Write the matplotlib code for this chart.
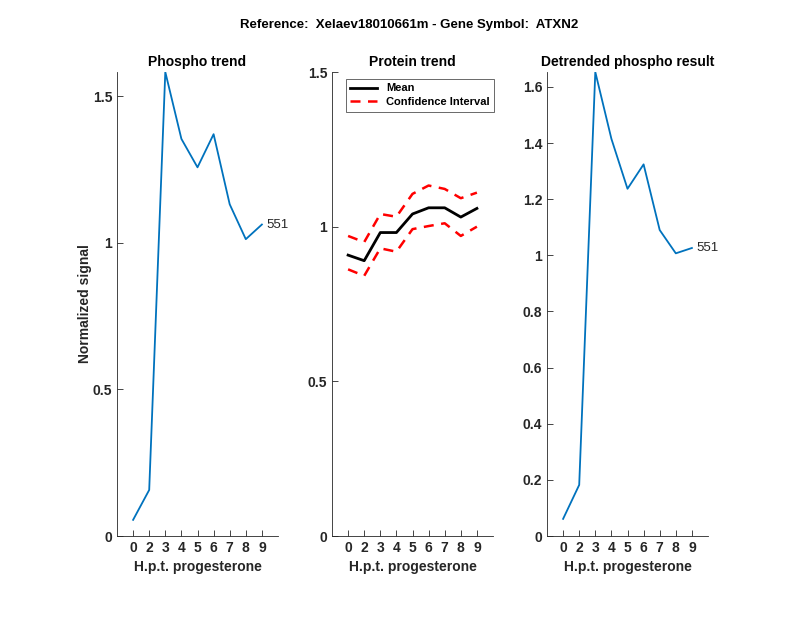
import matplotlib
matplotlib.use("Agg")
import matplotlib.pyplot as plt

plt.rcParams['font.family'] = ['Liberation Sans', 'DejaVu Sans']

# time points (hours post progesterone), drawn at equal spacing
tick_labels = ['0', '2', '3', '4', '5', '6', '7', '8', '9']
positions = list(range(1, len(tick_labels) + 1))

phospho = [0.055, 0.157, 1.582, 1.354, 1.257, 1.370, 1.131, 1.012, 1.062]
protein_mean = [0.908, 0.890, 0.981, 0.981, 1.041, 1.061, 1.061, 1.031, 1.059]
protein_upper = [0.970, 0.950, 1.041, 1.032, 1.106, 1.133, 1.122, 1.092, 1.110]
protein_lower = [0.862, 0.841, 0.930, 0.919, 0.992, 1.002, 1.011, 0.970, 1.000]
detrended = [0.061, 0.182, 1.653, 1.415, 1.237, 1.324, 1.090, 1.007, 1.026]
peptide_label = '551'

blue = '#0072BD'
gray = '#262626'

fig = plt.figure(figsize=(8, 6.18), dpi=100)
W, H = 800.0, 618.0
bottom = (H - 536) / H
height = (536 - 72) / H
lefts = [117, 332, 547]
width = 161 / W
axes = [fig.add_axes([l / W, bottom, width, height]) for l in lefts]


def style_axis(ax, title):
    ax.set_xlim(0, 10)
    ax.set_xticks(positions)
    ax.set_xticklabels(tick_labels)
    for side in ['top', 'right']:
        ax.spines[side].set_visible(False)
    for side in ['left', 'bottom']:
        ax.spines[side].set_color(gray)
        ax.spines[side].set_linewidth(0.6)
    ax.tick_params(direction='in', length=4, width=0.6, colors=gray,
                   labelsize=10, labelcolor=gray)
    for lab in ax.get_xticklabels() + ax.get_yticklabels():
        lab.set_fontweight('bold')
    ax.set_title(title, fontsize=10, fontweight='bold', pad=4)
    ax.set_xlabel('H.p.t. progesterone', fontsize=10, fontweight='bold', color=gray)


# phospho trend
ax = axes[0]
ax.plot(positions, phospho, color=blue, lw=1.3)
ax.set_ylim(0, max(phospho))
ax.set_yticks([0, 0.5, 1, 1.5])
ax.set_yticklabels(['0', '0.5', '1', '1.5'])
ax.text(positions[-1] + 0.3, phospho[-1], peptide_label, fontsize=9.5, va='center', color=gray)
style_axis(ax, 'Phospho trend')
ax.set_ylabel('Normalized signal', fontsize=10, fontweight='bold', color=gray)
ax.yaxis.set_label_coords(-0.155, 0.5)

# protein trend
ax = axes[1]
ax.plot(positions, protein_mean, color='black', lw=2, label='Mean')
ax.plot(positions, protein_upper, color='red', lw=1.8, ls=(0, (4, 3)), label='Confidence Interval')
ax.plot(positions, protein_lower, color='red', lw=1.8, ls=(0, (4, 3)))
ax.set_ylim(0, 1.5)
ax.set_yticks([0, 0.5, 1, 1.5])
ax.set_yticklabels(['0', '0.5', '1', '1.5'])
style_axis(ax, 'Protein trend')
leg = ax.legend(loc='upper left', bbox_to_anchor=(0.087, 0.985), borderaxespad=0,
                fontsize=8, frameon=True, fancybox=False, edgecolor=gray,
                borderpad=0.4, handlelength=2.4, labelspacing=0.35)
leg.get_frame().set_linewidth(0.6)
for t in leg.get_texts():
    t.set_fontweight('bold')

# detrended phospho
ax = axes[2]
ax.plot(positions, detrended, color=blue, lw=1.3)
ax.set_ylim(0, max(detrended))
ax.set_yticks([0, 0.2, 0.4, 0.6, 0.8, 1, 1.2, 1.4, 1.6])
ax.set_yticklabels(['0', '0.2', '0.4', '0.6', '0.8', '1', '1.2', '1.4', '1.6'])
ax.text(positions[-1] + 0.3, detrended[-1], peptide_label, fontsize=9.5, va='center', color=gray)
style_axis(ax, 'Detrended phospho result')

fig.suptitle('Reference:  Xelaev18010661m - Gene Symbol:  ATXN2', x=0.512, y=0.97,
             fontsize=9.5, fontweight='bold')

fig.savefig('out.png', dpi=100)
